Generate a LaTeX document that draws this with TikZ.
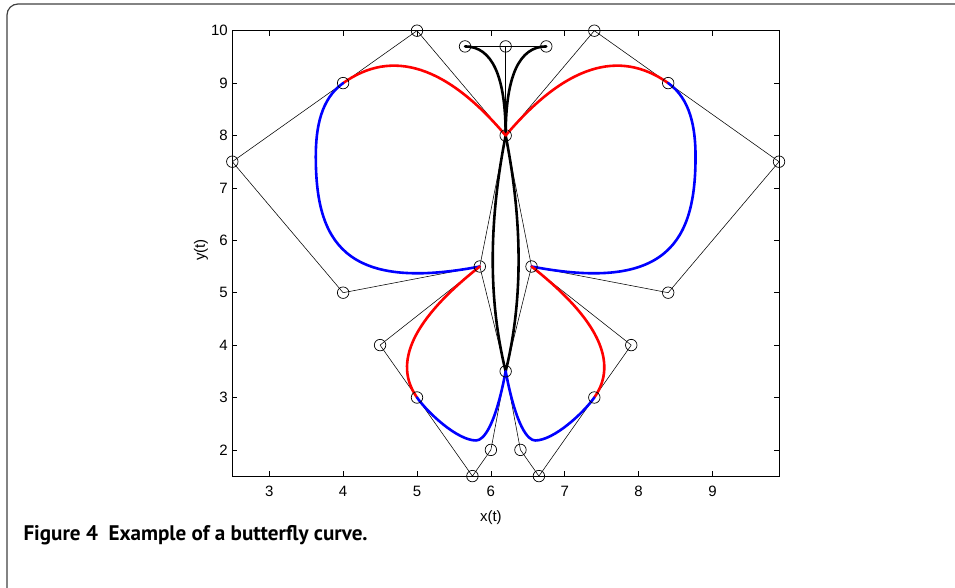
\documentclass[tikz,border=0pt]{standalone}
\usepackage{fontspec}
\setmainfont{Liberation Sans}
\newfontfamily\capfont{PT Sans}
\begin{document}
\begin{tikzpicture}[x=1pt,y=1pt,
  cp/.style={circle,draw,line width=0.7pt,minimum size=11.5pt,inner sep=0pt},
  ctrl/.style={line width=0.55pt,line join=round},
  redc/.style={draw=red,line width=2.6pt,line join=round,line cap=round},
  bluec/.style={draw=blue,line width=2.6pt,line join=round,line cap=round},
  blk/.style={draw=black,line width=2.6pt,line join=round,line cap=round},
  tl/.style={font=\fontsize{15}{17}\selectfont,inner sep=0pt},
  axl/.style={font=\fontsize{15}{17}\selectfont,inner sep=0pt},
  tick/.style={line width=0.6pt}]
\useasboundingbox (0,0) rectangle (955,587);
\begin{scope}
  \clip (0,0) rectangle (955,587);
  \draw[black!75,line width=1.2pt,rounded corners=11pt] (7,-40) -- (7,583) -- (1000,583);
\end{scope}
\node[anchor=base west,inner sep=0pt,font=\capfont\bfseries\fontsize{21.1}{24}\selectfont] (cap) at (23.3,47) {Figure 4\hspace{0.5em}Example of a butterfly curve.};
\begin{scope}[shift={(47.6pt,32.3pt)},x=73.88pt,y=52.4pt]
  % axes
  \draw[line width=0.8pt] (2.5,1.5) rectangle (9.9,10);
  \foreach \t in {3,...,9} {
    \draw[tick] (\t,1.5) -- ++(0pt,5pt);
    \draw[tick] (\t,10) -- ++(0pt,-5pt);
    \node[tl,anchor=north,yshift=-10pt] (xt\t) at (\t,1.5) {\t};
  }
  \foreach \t in {2,...,10} {
    \draw[tick] (2.5,\t) -- ++(5pt,0pt);
    \draw[tick] (9.9,\t) -- ++(-5pt,0pt);
    \node[tl,anchor=east,xshift=-4.3pt] (yt\t) at (2.5,\t) {\t};
  }
  \node[axl] (xlab) at (6.0,0.70) {x(t)};
  \node[axl,rotate=90] (ylab) at (2.076,5.815) {y(t)};
  % control points
  \coordinate (A0) at (6.2,8);
  \coordinate (A1) at (5,10);
  \coordinate (A2) at (4,9);
  \coordinate (A3) at (2.5,7.5);
  \coordinate (A4) at (4,5);
  \coordinate (A5) at (5.85,5.5);
  \coordinate (A6) at (4.5,4);
  \coordinate (A7) at (5,3);
  \coordinate (A8) at (5.75,1.5);
  \coordinate (A9) at (6,2);
  \coordinate (B0) at (6.2,3.5);
  \coordinate (T0) at (6.2,9.7);
  \coordinate (T1) at (5.65,9.7);
  \coordinate (T2) at (6.75,9.7);
  \coordinate (R1) at (7.4,10);
  \coordinate (R2) at (8.4,9);
  \coordinate (R3) at (9.9,7.5);
  \coordinate (R4) at (8.4,5);
  \coordinate (R5) at (6.55,5.5);
  \coordinate (R6) at (7.9,4);
  \coordinate (R7) at (7.4,3);
  \coordinate (R8) at (6.65,1.5);
  \coordinate (R9) at (6.4,2);
  \coordinate (LW) at (3.63,7.6);
  \coordinate (RW) at (8.77,7.6);
  \coordinate (LB) at (5.8,2.18);
  \coordinate (RB) at (6.6,2.18);
  % control polygons
  \draw[ctrl] (A0) -- (A1) -- (A2) -- (A3) -- (A4) -- (A5) -- (A6) -- (A7) -- (A8) -- (A9) -- (B0);
  \draw[ctrl] (A0) -- (R1) -- (R2) -- (R3) -- (R4) -- (R5) -- (R6) -- (R7) -- (R8) -- (R9) -- (B0);
  \draw[ctrl] (A0) -- (A5) -- (B0);
  \draw[ctrl] (A0) -- (R5) -- (B0);
  \draw[ctrl] (A0) -- (T0);
  \draw[ctrl] (T1) -- (T0) -- (T2);
  % body and antennae
  \draw[blk] (A0) .. controls (5.9667,6.3333) and (5.9667,4.8333) .. (B0);
  \draw[blk] (A0) .. controls (6.4333,6.3333) and (6.4333,4.8333) .. (B0);
  \draw[blk] (A0) .. controls (6.2,9.1333) and (6.0167,9.7) .. (T1);
  \draw[blk] (A0) .. controls (6.2,9.1333) and (6.3833,9.7) .. (T2);
  % wings left
  \draw[redc] (A0) .. controls (5.4,9.3333) and (4.6667,9.6667) .. (A2);
  \draw[bluec] (A2) .. controls (3.7,8.7) and (3.63,8.15) .. (LW) .. controls (3.63,6.0) and (4.0,5.0) .. (A5);
  \draw[redc] (A5) .. controls (4.95,4.5) and (4.6667,3.6667) .. (A7);
  \draw[bluec] (A7) .. controls (5.15,2.7) and (5.55,2.18) .. (LB) .. controls (5.9,2.18) and (6.06,2.45) .. (B0);
  % wings right
  \draw[redc] (A0) .. controls (7.0,9.3333) and (7.7333,9.6667) .. (R2);
  \draw[bluec] (R2) .. controls (8.7,8.7) and (8.77,8.15) .. (RW) .. controls (8.77,6.0) and (8.4,5.0) .. (R5);
  \draw[redc] (R5) .. controls (7.45,4.5) and (7.7333,3.6667) .. (R7);
  \draw[bluec] (R7) .. controls (7.25,2.7) and (6.85,2.18) .. (RB) .. controls (6.5,2.18) and (6.34,2.45) .. (B0);
  % circles
  \foreach \p in {A0,A1,A2,A3,A4,A5,A6,A7,A8,A9,B0,T0,T1,T2,R1,R2,R3,R4,R5,R6,R7,R8,R9} {
    \node[cp] (c\p) at (\p) {};
  }
\end{scope}
\end{tikzpicture}
\end{document}
